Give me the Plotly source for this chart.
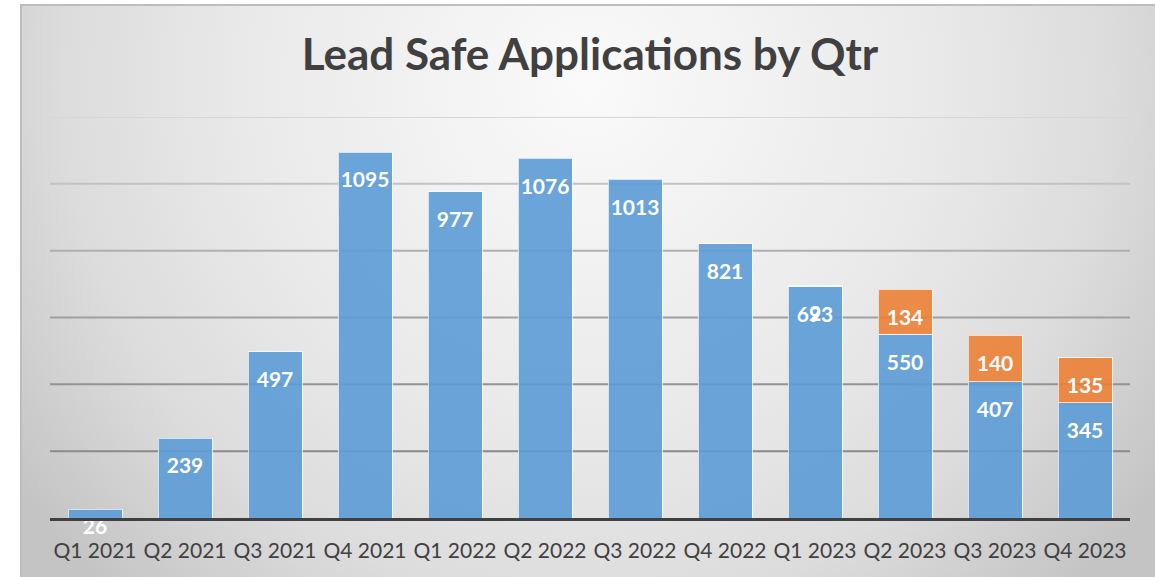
import base64
import plotly.graph_objects as go

categories = ["Q1 2021", "Q2 2021", "Q3 2021", "Q4 2021", "Q1 2022", "Q2 2022",
              "Q3 2022", "Q4 2022", "Q1 2023", "Q2 2023", "Q3 2023", "Q4 2023"]
blue_values = [26, 239, 497, 1095, 977, 1076, 1013, 821, 693, 550, 407, 345]
orange_values = [None, None, None, None, None, None, None, None, 2, 134, 140, 135]

grid_values = [200, 400, 600, 800, 1000, 1200]
grid_colors = ["#8a8a8a", "#939393", "#a0a0a0", "#afafaf", "#c2c2c2", "#d6d6d6"]

BLUE = "rgba(91,155,213,0.9)"
ORANGE = "rgba(237,125,49,0.88)"
LABEL_OFFSET = 90  # data units below bar end for "inside end" labels

W, H = 1155, 577
L, R, T, B = 50, 25, 117, 59

PW_, PH_ = W - 20, H - 4
svg = f'''<svg xmlns="http://www.w3.org/2000/svg" width="{PW_}" height="{PH_}" viewBox="0 0 {PW_} {PH_}" preserveAspectRatio="none">
<defs><radialGradient id="g" cx="{PW_/2}" cy="80" r="700" gradientUnits="userSpaceOnUse">
<stop offset="0" stop-color="#fafafa"/><stop offset="0.5" stop-color="#e9e9e9"/><stop offset="0.75" stop-color="#dcdcdc"/><stop offset="1" stop-color="#c4c4c4"/>
</radialGradient></defs>
<rect x="0" y="0" width="{PW_}" height="{PH_}" fill="url(#g)"/>
<line x1="0" y1="1" x2="{PW_}" y2="1" stroke="#bdbdbd" stroke-width="2"/>
<line x1="1" y1="0" x2="1" y2="{PH_}" stroke="#bdbdbd" stroke-width="2"/>
</svg>'''
src = "data:image/svg+xml;base64," + base64.b64encode(svg.encode()).decode()

pw = W - L - R
ph = H - T - B

fig = go.Figure()
fig.add_trace(go.Bar(x=categories, y=blue_values, marker=dict(color=BLUE, line=dict(color="rgba(255,255,255,0.7)", width=1)),
                     width=0.6, showlegend=False, hoverinfo="skip"))
fig.add_trace(go.Bar(x=categories, y=orange_values, marker=dict(color=ORANGE, line=dict(color="rgba(255,255,255,0.7)", width=1)),
                     width=0.6, showlegend=False, hoverinfo="skip"))

label_font = dict(family="Lato", size=21, color="white", weight="bold")

# blue labels: "inside end"; labels that would fall below the axis are anchored at 0 and hang below it
bx, by, bt, bp = [], [], [], []
for c, v in zip(categories, blue_values):
    bx.append(c); bt.append(str(v))
    if v - LABEL_OFFSET >= 0:
        by.append(v - LABEL_OFFSET); bp.append("middle center")
    else:
        by.append(0); bp.append("bottom center")
fig.add_trace(go.Scatter(x=bx, y=by, mode="text", text=bt, textposition=bp, textfont=label_font,
                         cliponaxis=False, showlegend=False, hoverinfo="skip"))

ox, oy, ot = [], [], []
for c, b, o in zip(categories, blue_values, orange_values):
    if o is not None:
        ox.append(c); oy.append(b + o - LABEL_OFFSET); ot.append(str(o))
fig.add_trace(go.Scatter(x=ox, y=oy, mode="text", text=ot, textfont=label_font,
                         cliponaxis=False, showlegend=False, hoverinfo="skip"))

shapes = [dict(type="line", xref="paper", x0=0, x1=1, yref="y", y0=gv, y1=gv,
               line=dict(color=gc, width=2), layer="below")
          for gv, gc in zip(grid_values, grid_colors)]

fig.update_layout(
    width=W, height=H, barmode="stack",
    margin=dict(l=L, r=R, t=T, b=B, autoexpand=False),
    paper_bgcolor="white", plot_bgcolor="rgba(0,0,0,0)",
    title=dict(text="<b>Lead Safe Applications by Qtr</b>", x=0.5, xref="paper", xanchor="center",
               y=1 - 55 / H, yref="container", yanchor="middle",
               font=dict(family="Lato", size=44, color="#404040")),
    images=[dict(source=src, xref="paper", yref="paper", x=(20 - L) / pw, y=(H - B - 4) / ph,
                 sizex=(W - 20) / pw, sizey=(H - 4) / ph, xanchor="left", yanchor="top",
                 sizing="stretch", layer="below")],
    shapes=shapes,
    xaxis=dict(showgrid=False, showline=True, linecolor="#404040", linewidth=3,
               tickfont=dict(family="Lato", size=21, color="#404040"), ticks="", ticklabelstandoff=12,
               range=[-0.5, 11.5]),
    yaxis=dict(range=[0, 1200], dtick=200, showgrid=False,
               showticklabels=False, zeroline=False, showline=False),
)

fig.write_html("out.html", config={"displayModeBar": False},
               post_script="document.body.style.margin='0';")
